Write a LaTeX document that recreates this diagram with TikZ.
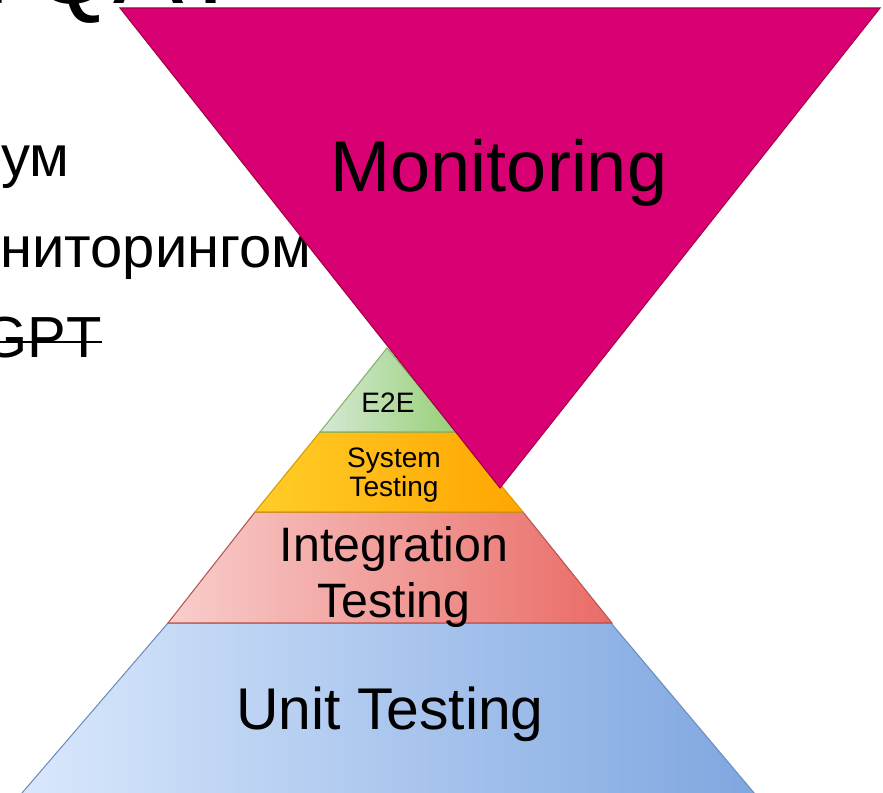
\documentclass[tikz,border=0pt]{standalone}
\usepackage{fontspec}
\setmainfont{Liberation Sans}
\usepackage{tikz}

\definecolor{monfill}{HTML}{D80073}
\definecolor{monstroke}{HTML}{A50040}
\definecolor{unitl}{HTML}{DAE8FC}
\definecolor{unitr}{HTML}{7EA6E0}
\definecolor{unitstroke}{HTML}{6C8EBF}
\definecolor{intl}{HTML}{F8CECC}
\definecolor{intr}{HTML}{EA6B66}
\definecolor{intstroke}{HTML}{B85450}
\definecolor{sysl}{HTML}{FFCD28}
\definecolor{sysr}{HTML}{FFA500}
\definecolor{sysstroke}{HTML}{D79B00}
\definecolor{etel}{HTML}{D5E8D4}
\definecolor{eter}{HTML}{97D077}
\definecolor{etestroke}{HTML}{82B366}

\tikzset{
  layer/.style={line width=0.6pt},
  slidetext/.style={anchor=base west, inner sep=0pt, font=\fontsize{33}{40}\selectfont},
  layertext/.style={inner sep=0pt, align=center}
}

\begin{document}
\begin{tikzpicture}[x=0.02cm,y=-0.02cm]
\useasboundingbox (0,0) rectangle (883,793);
\clip (0,0) rectangle (883,793);

\node [slidetext, font=\fontsize{60}{72}\selectfont] (title) at (-57,4) {а QA?};
\node [slidetext] (umline) at (1,177) {ум};
\node [slidetext] (monline) at (0,268) {ниторингом};
\node [slidetext] (gptline) at (-18,358) {GPT};
\draw [line width=1.1pt] ([yshift=9pt]gptline.base west) -- ([yshift=9pt]gptline.base east);

\shade [layer, draw=unitstroke, left color=unitl, right color=unitr] (168,623) -- (611,623) -- (760,800) -- (16,800) -- cycle;
\shade [layer, draw=intstroke, left color=intl, right color=intr] (255,512) -- (523,512) -- (612,623) -- (168,623) -- cycle;
\shade [layer, draw=sysstroke, left color=sysl, right color=sysr] (320,432) -- (457,432) -- (523,512) -- (255,512) -- cycle;
\shade [layer, draw=etestroke, left color=etel, right color=eter] (387,348) -- (457,432) -- (320,432) -- cycle;

\node [anchor=base, inner sep=0pt, font=\fontsize{16}{19}\selectfont] (e2e) at (388,413) {E2E};
\node [layertext, font=\fontsize{16}{16.5}\selectfont] (system) at (394,475) {System\\Testing};
\node [layertext, font=\fontsize{27.5}{32}\selectfont] (integration) at (394,577) {Integration\\Testing};
\node [anchor=base, inner sep=0pt, font=\fontsize{33.5}{40}\selectfont] (unit) at (390,730) {Unit Testing};

\draw [layer, fill=monfill, draw=monstroke] (120,8) -- (880,8) -- (500,488) -- cycle;
\node [anchor=base, inner sep=0pt, font=\fontsize{41}{49}\selectfont] (monitoring) at (499,192) {Monitoring};
\end{tikzpicture}
\end{document}
